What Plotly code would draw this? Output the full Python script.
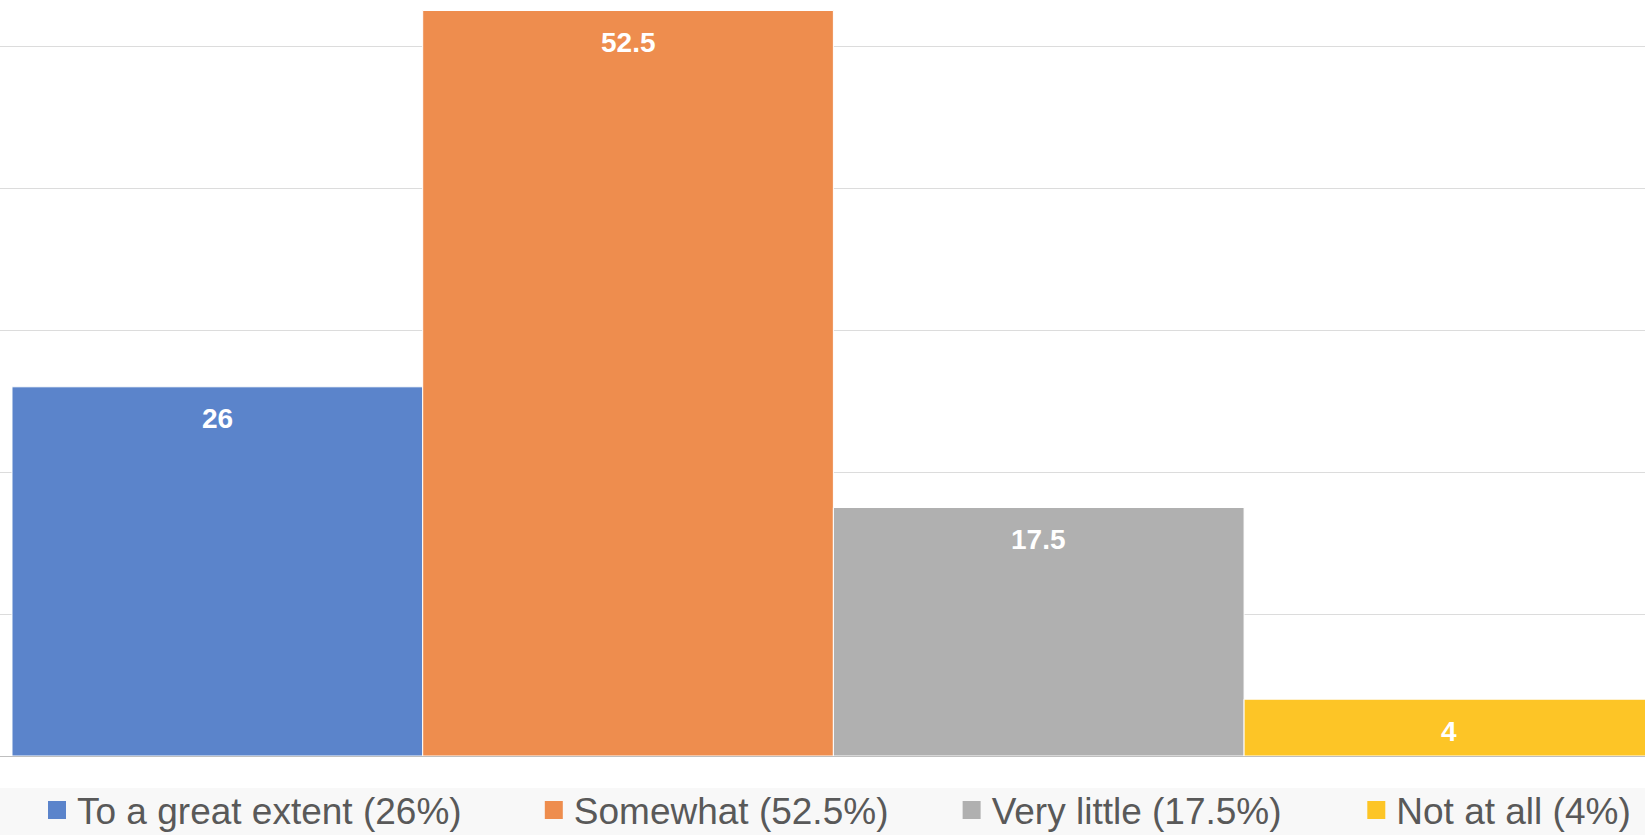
import plotly.graph_objects as go

# Survey responses (percent of respondents)
categories = ["To a great extent", "Somewhat", "Very little", "Not at all"]
values = [26, 52.5, 17.5, 4]
colors = ["#5B84CB", "#EE8D4E", "#B0B0B0", "#FDC526"]
legend_ids = ["legend", "legend2", "legend3", "legend4"]
legend_x = [0.0225, 0.3245, 0.5785, 0.8245]

fig = go.Figure()

for cat, val, col, lg in zip(categories, values, colors, legend_ids):
    fig.add_trace(go.Bar(
        x=[cat],
        y=[val],
        name=f"{cat} ({val:g}%)",
        width=1,
        marker=dict(color=col, line=dict(color="white", width=1)),
        showlegend=False,
        hoverinfo="skip",
    ))
    # legend swatch: a square marker carrying the same colour and name
    fig.add_trace(go.Scatter(
        x=[None], y=[None],
        mode="markers",
        name=f"{cat} ({val:g}%)",
        marker=dict(symbol="square", size=16, color=col, line=dict(color=col, width=2)),
        legend=lg,
        showlegend=True,
        hoverinfo="skip",
    ))
    # value label placed just inside the top of each bar
    fig.add_annotation(
        x=cat, y=val, text=f"{val:g}",
        showarrow=False, yanchor="middle", yshift=-32,
        font=dict(family="Liberation Sans", size=28, color="#FFFFFF", weight="bold"),
    )

legend_style = dict(
    orientation="h",
    xanchor="left",
    yanchor="top",
    y=-0.031,
    bgcolor="rgba(0,0,0,0)",
    borderwidth=0,
    itemsizing="trace",
    font=dict(family="Liberation Sans", size=37, color="#595959"),
)
layout_legends = {}
for lg, lx in zip(legend_ids, legend_x):
    layout_legends[lg] = dict(legend_style, x=lx)

fig.update_layout(
    width=1645,
    height=835,
    margin=dict(l=0, r=0, t=0, b=79, autoexpand=False),
    paper_bgcolor="white",
    plot_bgcolor="white",
    barmode="overlay",
    showlegend=True,
    xaxis=dict(
        range=[-0.5292, 3.4762],
        showticklabels=False,
        showgrid=False,
        ticks="",
        showline=True,
        linecolor="#BFBFBF",
        linewidth=1,
        zeroline=False,
    ),
    yaxis=dict(
        range=[0, 53.24],
        dtick=10,
        showticklabels=False,
        showgrid=True,
        gridcolor="#DCDCDC",
        gridwidth=1.3,
        zeroline=False,
        ticks="",
    ),
    shapes=[dict(
        type="rect", xref="paper", yref="paper",
        x0=0, x1=1, y0=-0.0424, y1=-0.2,
        fillcolor="#F8F8F8", line=dict(width=0), layer="below",
    )],
    **layout_legends,
)

fig.write_html("out.html")
